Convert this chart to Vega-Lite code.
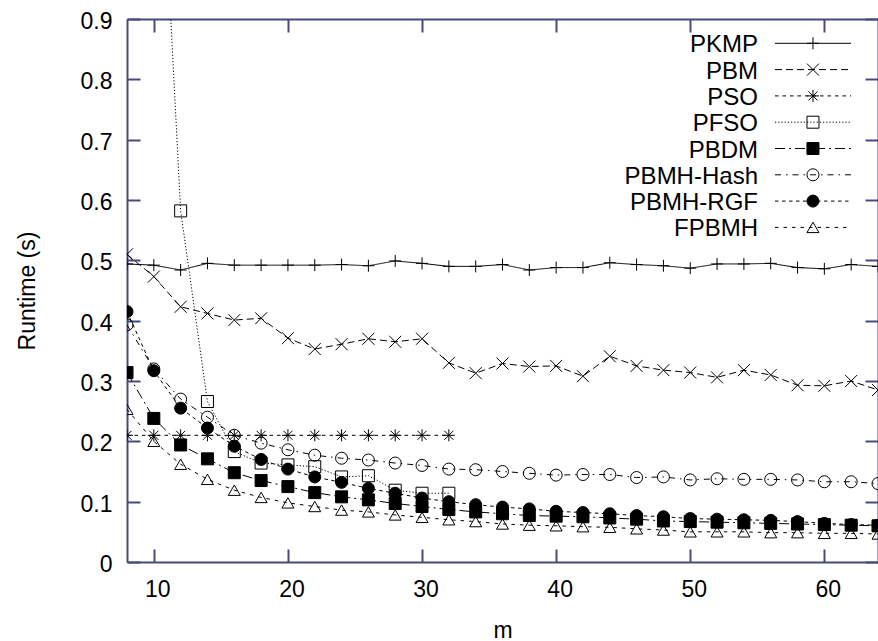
{
"$schema": "https://vega.github.io/schema/vega-lite/v6.json",
"width": 751, "height": 543,
"autosize": {"type": "none"},
"padding": {"left": 127, "top": 19, "right": 0, "bottom": 79},
"background": "white",
"config": {"view": {"stroke": null}, "font": "Liberation Sans",
  "axis": {"grid": false, "domain": true, "domainColor": "#4a4a7a", "domainWidth": 2, "tickColor": "#4a4a7a", "tickWidth": 2, "tickSize": -13, "labelColor": "black", "labelFont": "Liberation Sans", "labelFontSize": 23, "titleFont": "Liberation Sans", "titleFontSize": 23, "titleFontWeight": "normal", "titleColor": "black"}},
"datasets": {
"runtime": [
{"m":8,"series":"PKMP","t":0.494},{"m":10,"series":"PKMP","t":0.492},{"m":12,"series":"PKMP","t":0.484},{"m":14,"series":"PKMP","t":0.495},{"m":16,"series":"PKMP","t":0.492},{"m":18,"series":"PKMP","t":0.492},{"m":20,"series":"PKMP","t":0.492},{"m":22,"series":"PKMP","t":0.492},{"m":24,"series":"PKMP","t":0.493},{"m":26,"series":"PKMP","t":0.491},{"m":28,"series":"PKMP","t":0.499},{"m":30,"series":"PKMP","t":0.495},{"m":32,"series":"PKMP","t":0.49},{"m":34,"series":"PKMP","t":0.49},{"m":36,"series":"PKMP","t":0.493},{"m":38,"series":"PKMP","t":0.484},{"m":40,"series":"PKMP","t":0.488},{"m":42,"series":"PKMP","t":0.488},{"m":44,"series":"PKMP","t":0.496},{"m":46,"series":"PKMP","t":0.493},{"m":48,"series":"PKMP","t":0.491},{"m":50,"series":"PKMP","t":0.487},{"m":52,"series":"PKMP","t":0.494},{"m":54,"series":"PKMP","t":0.494},{"m":56,"series":"PKMP","t":0.495},{"m":58,"series":"PKMP","t":0.488},{"m":60,"series":"PKMP","t":0.486},{"m":62,"series":"PKMP","t":0.493},{"m":64,"series":"PKMP","t":0.49},
{"m":8,"series":"PBM","t":0.51},{"m":10,"series":"PBM","t":0.473},{"m":12,"series":"PBM","t":0.423},{"m":14,"series":"PBM","t":0.412},{"m":16,"series":"PBM","t":0.401},{"m":18,"series":"PBM","t":0.404},{"m":20,"series":"PBM","t":0.371},{"m":22,"series":"PBM","t":0.353},{"m":24,"series":"PBM","t":0.361},{"m":26,"series":"PBM","t":0.37},{"m":28,"series":"PBM","t":0.365},{"m":30,"series":"PBM","t":0.37},{"m":32,"series":"PBM","t":0.33},{"m":34,"series":"PBM","t":0.313},{"m":36,"series":"PBM","t":0.329},{"m":38,"series":"PBM","t":0.324},{"m":40,"series":"PBM","t":0.325},{"m":42,"series":"PBM","t":0.308},{"m":44,"series":"PBM","t":0.341},{"m":46,"series":"PBM","t":0.325},{"m":48,"series":"PBM","t":0.318},{"m":50,"series":"PBM","t":0.314},{"m":52,"series":"PBM","t":0.306},{"m":54,"series":"PBM","t":0.318},{"m":56,"series":"PBM","t":0.31},{"m":58,"series":"PBM","t":0.293},{"m":60,"series":"PBM","t":0.292},{"m":62,"series":"PBM","t":0.3},{"m":64,"series":"PBM","t":0.285},
{"m":8,"series":"PSO","t":0.21},{"m":10,"series":"PSO","t":0.21},{"m":12,"series":"PSO","t":0.21},{"m":14,"series":"PSO","t":0.21},{"m":16,"series":"PSO","t":0.21},{"m":18,"series":"PSO","t":0.21},{"m":20,"series":"PSO","t":0.21},{"m":22,"series":"PSO","t":0.21},{"m":24,"series":"PSO","t":0.21},{"m":26,"series":"PSO","t":0.21},{"m":28,"series":"PSO","t":0.21},{"m":30,"series":"PSO","t":0.21},{"m":32,"series":"PSO","t":0.21},
{"m":10,"series":"PFSO","t":1.45},{"m":12,"series":"PFSO","t":0.582},{"m":14,"series":"PFSO","t":0.266},{"m":16,"series":"PFSO","t":0.183},{"m":18,"series":"PFSO","t":0.164},{"m":20,"series":"PFSO","t":0.161},{"m":22,"series":"PFSO","t":0.158},{"m":24,"series":"PFSO","t":0.141},{"m":26,"series":"PFSO","t":0.143},{"m":28,"series":"PFSO","t":0.119},{"m":30,"series":"PFSO","t":0.114},{"m":32,"series":"PFSO","t":0.114},
{"m":8,"series":"PBDM","t":0.314},{"m":10,"series":"PBDM","t":0.238},{"m":12,"series":"PBDM","t":0.194},{"m":14,"series":"PBDM","t":0.171},{"m":16,"series":"PBDM","t":0.148},{"m":18,"series":"PBDM","t":0.135},{"m":20,"series":"PBDM","t":0.125},{"m":22,"series":"PBDM","t":0.115},{"m":24,"series":"PBDM","t":0.108},{"m":26,"series":"PBDM","t":0.103},{"m":28,"series":"PBDM","t":0.097},{"m":30,"series":"PBDM","t":0.092},{"m":32,"series":"PBDM","t":0.087},{"m":34,"series":"PBDM","t":0.083},{"m":36,"series":"PBDM","t":0.08},{"m":38,"series":"PBDM","t":0.077},{"m":40,"series":"PBDM","t":0.076},{"m":42,"series":"PBDM","t":0.075},{"m":44,"series":"PBDM","t":0.073},{"m":46,"series":"PBDM","t":0.071},{"m":48,"series":"PBDM","t":0.068},{"m":50,"series":"PBDM","t":0.067},{"m":52,"series":"PBDM","t":0.066},{"m":54,"series":"PBDM","t":0.065},{"m":56,"series":"PBDM","t":0.064},{"m":58,"series":"PBDM","t":0.063},{"m":60,"series":"PBDM","t":0.062},{"m":62,"series":"PBDM","t":0.061},{"m":64,"series":"PBDM","t":0.06},
{"m":8,"series":"PBMH-Hash","t":0.393},{"m":10,"series":"PBMH-Hash","t":0.32},{"m":12,"series":"PBMH-Hash","t":0.27},{"m":14,"series":"PBMH-Hash","t":0.24},{"m":16,"series":"PBMH-Hash","t":0.21},{"m":18,"series":"PBMH-Hash","t":0.197},{"m":20,"series":"PBMH-Hash","t":0.186},{"m":22,"series":"PBMH-Hash","t":0.177},{"m":24,"series":"PBMH-Hash","t":0.172},{"m":26,"series":"PBMH-Hash","t":0.169},{"m":28,"series":"PBMH-Hash","t":0.164},{"m":30,"series":"PBMH-Hash","t":0.16},{"m":32,"series":"PBMH-Hash","t":0.154},{"m":34,"series":"PBMH-Hash","t":0.153},{"m":36,"series":"PBMH-Hash","t":0.15},{"m":38,"series":"PBMH-Hash","t":0.147},{"m":40,"series":"PBMH-Hash","t":0.144},{"m":42,"series":"PBMH-Hash","t":0.145},{"m":44,"series":"PBMH-Hash","t":0.145},{"m":46,"series":"PBMH-Hash","t":0.14},{"m":48,"series":"PBMH-Hash","t":0.141},{"m":50,"series":"PBMH-Hash","t":0.136},{"m":52,"series":"PBMH-Hash","t":0.138},{"m":54,"series":"PBMH-Hash","t":0.137},{"m":56,"series":"PBMH-Hash","t":0.137},{"m":58,"series":"PBMH-Hash","t":0.136},{"m":60,"series":"PBMH-Hash","t":0.133},{"m":62,"series":"PBMH-Hash","t":0.133},{"m":64,"series":"PBMH-Hash","t":0.13},
{"m":8,"series":"PBMH-RGF","t":0.415},{"m":10,"series":"PBMH-RGF","t":0.317},{"m":12,"series":"PBMH-RGF","t":0.255},{"m":14,"series":"PBMH-RGF","t":0.222},{"m":16,"series":"PBMH-RGF","t":0.192},{"m":18,"series":"PBMH-RGF","t":0.17},{"m":20,"series":"PBMH-RGF","t":0.154},{"m":22,"series":"PBMH-RGF","t":0.141},{"m":24,"series":"PBMH-RGF","t":0.132},{"m":26,"series":"PBMH-RGF","t":0.122},{"m":28,"series":"PBMH-RGF","t":0.114},{"m":30,"series":"PBMH-RGF","t":0.106},{"m":32,"series":"PBMH-RGF","t":0.1},{"m":34,"series":"PBMH-RGF","t":0.095},{"m":36,"series":"PBMH-RGF","t":0.091},{"m":38,"series":"PBMH-RGF","t":0.088},{"m":40,"series":"PBMH-RGF","t":0.084},{"m":42,"series":"PBMH-RGF","t":0.082},{"m":44,"series":"PBMH-RGF","t":0.08},{"m":46,"series":"PBMH-RGF","t":0.077},{"m":48,"series":"PBMH-RGF","t":0.075},{"m":50,"series":"PBMH-RGF","t":0.072},{"m":52,"series":"PBMH-RGF","t":0.071},{"m":54,"series":"PBMH-RGF","t":0.07},{"m":56,"series":"PBMH-RGF","t":0.069},{"m":58,"series":"PBMH-RGF","t":0.067},{"m":60,"series":"PBMH-RGF","t":0.064},{"m":62,"series":"PBMH-RGF","t":0.062},{"m":64,"series":"PBMH-RGF","t":0.061},
{"m":8,"series":"FPBMH","t":0.253},{"m":10,"series":"FPBMH","t":0.2},{"m":12,"series":"FPBMH","t":0.162},{"m":14,"series":"FPBMH","t":0.137},{"m":16,"series":"FPBMH","t":0.119},{"m":18,"series":"FPBMH","t":0.107},{"m":20,"series":"FPBMH","t":0.098},{"m":22,"series":"FPBMH","t":0.092},{"m":24,"series":"FPBMH","t":0.086},{"m":26,"series":"FPBMH","t":0.083},{"m":28,"series":"FPBMH","t":0.078},{"m":30,"series":"FPBMH","t":0.074},{"m":32,"series":"FPBMH","t":0.07},{"m":34,"series":"FPBMH","t":0.067},{"m":36,"series":"FPBMH","t":0.063},{"m":38,"series":"FPBMH","t":0.061},{"m":40,"series":"FPBMH","t":0.06},{"m":42,"series":"FPBMH","t":0.0585},{"m":44,"series":"FPBMH","t":0.0575},{"m":46,"series":"FPBMH","t":0.055},{"m":48,"series":"FPBMH","t":0.053},{"m":50,"series":"FPBMH","t":0.05},{"m":52,"series":"FPBMH","t":0.05},{"m":54,"series":"FPBMH","t":0.05},{"m":56,"series":"FPBMH","t":0.0486},{"m":58,"series":"FPBMH","t":0.0486},{"m":60,"series":"FPBMH","t":0.0475},{"m":62,"series":"FPBMH","t":0.0475},{"m":64,"series":"FPBMH","t":0.0464}
],
"names": [{"series":"PKMP"},{"series":"PBM"},{"series":"PSO"},{"series":"PFSO"},{"series":"PBDM"},{"series":"PBMH-Hash"},{"series":"PBMH-RGF"},{"series":"FPBMH"}]
},
"resolve": {"scale": {"y": "independent"}, "axis": {"x": "independent", "y": "independent"}},
"layer": [
 {"data": {"name": "runtime"},
  "mark": {"type": "line", "clip": true, "stroke": "black", "strokeWidth": 1},
  "encoding": {
   "x": {"field": "m", "type": "quantitative", "scale": {"domain": [8, 64], "nice": false, "zero": false},
     "axis": {"orient": "bottom", "values": [10,20,30,40,50,60], "format": "d", "labelPadding": 29, "labelOffset": 3.5, "title": "m", "titleX": 375.5, "titleY": 68, "titleBaseline": "middle", "titleAlign": "center"}},
   "y": {"field": "t", "type": "quantitative", "scale": {"domain": [0, 0.9], "nice": false, "zero": false},
     "axis": {"orient": "left", "values": [0,0.1,0.2,0.3,0.4,0.5,0.6,0.7,0.8,0.9], "format": ".1~f", "labelPadding": 28, "labelOffset": 2.5, "title": "Runtime (s)", "titleAngle": -90, "titleX": -100, "titleY": 271.5, "titleAlign": "center", "titleBaseline": "middle"}},
   "strokeDash": {"field": "series", "type": "nominal",
     "scale": {"domain": ["PKMP","PBM","PSO","PFSO","PBDM","PBMH-Hash","PBMH-RGF","FPBMH"],
               "range": [[1,0],[7,4],[3.5,4],[1.2,2],[10,4,2,4],[6,5,1.5,5],[3.5,3.5],[3.5,5]]},
     "legend": null}
  }},
 {"data": {"name": "runtime"},
  "mark": {"type": "point", "clip": true, "stroke": "black", "strokeWidth": 1, "size": 144, "opacity": 1},
  "encoding": {
   "x": {"field": "m", "type": "quantitative", "axis": {"orient": "top", "values": [10,20,30,40,50,60], "labels": false, "title": null}},
   "y": {"field": "t", "type": "quantitative", "scale": {"domain": [0, 0.9], "nice": false, "zero": false},
     "axis": {"orient": "right", "values": [0,0.1,0.2,0.3,0.4,0.5,0.6,0.7,0.8,0.9], "labels": false, "title": null}},
   "shape": {"field": "series", "type": "nominal",
     "scale": {"domain": ["PKMP","PBM","PSO","PFSO","PBDM","PBMH-Hash","PBMH-RGF","FPBMH"],
               "range": ["M-1,0H1M0,-1V1","M-1,-1L1,1M-1,1L1,-1","M-1,0H1M0,-1V1M-0.75,-0.75L0.75,0.75M-0.75,0.75L0.75,-0.75","square","square","circle","circle","triangle-up"]},
     "legend": null},
   "fill": {"field": "series", "type": "nominal",
     "scale": {"domain": ["PKMP","PBM","PSO","PFSO","PBDM","PBMH-Hash","PBMH-RGF","FPBMH"],
               "range": ["transparent","transparent","transparent","transparent","black","transparent","black","transparent"]},
     "legend": null}
  }},
 {"data": {"name": "names"},
  "mark": {"type": "rule", "stroke": "black", "strokeWidth": 1},
  "encoding": {
   "x": {"datum": 56.32, "type": "quantitative", "axis": null},
   "x2": {"datum": 61.99},
   "y": {"field": "series", "type": "nominal", "scale": {"type": "point", "domain": ["PKMP","PBM","PSO","PFSO","PBDM","PBMH-Hash","PBMH-RGF","FPBMH"], "range": [24.3, 208.4], "padding": 0}, "axis": null},
   "strokeDash": {"field": "series", "type": "nominal", "legend": null}
  }},
 {"data": {"name": "names"},
  "mark": {"type": "point", "stroke": "black", "strokeWidth": 1, "size": 144, "opacity": 1},
  "encoding": {
   "x": {"datum": 59.15, "type": "quantitative", "axis": null},
   "y": {"field": "series", "type": "nominal", "scale": {"type": "point", "domain": ["PKMP","PBM","PSO","PFSO","PBDM","PBMH-Hash","PBMH-RGF","FPBMH"], "range": [24.3, 208.4], "padding": 0}, "axis": null},
   "shape": {"field": "series", "type": "nominal", "legend": null},
   "fill": {"field": "series", "type": "nominal", "legend": null}
  }},
 {"data": {"name": "names"},
  "mark": {"type": "text", "align": "right", "baseline": "middle", "dy": 2, "font": "Liberation Sans", "fontSize": 24, "color": "black"},
  "encoding": {
   "x": {"datum": 55.05, "type": "quantitative", "axis": null},
   "y": {"field": "series", "type": "nominal", "scale": {"type": "point", "domain": ["PKMP","PBM","PSO","PFSO","PBDM","PBMH-Hash","PBMH-RGF","FPBMH"], "range": [24.3, 208.4], "padding": 0}, "axis": null},
   "text": {"field": "series", "type": "nominal"}
  }}
]
}
